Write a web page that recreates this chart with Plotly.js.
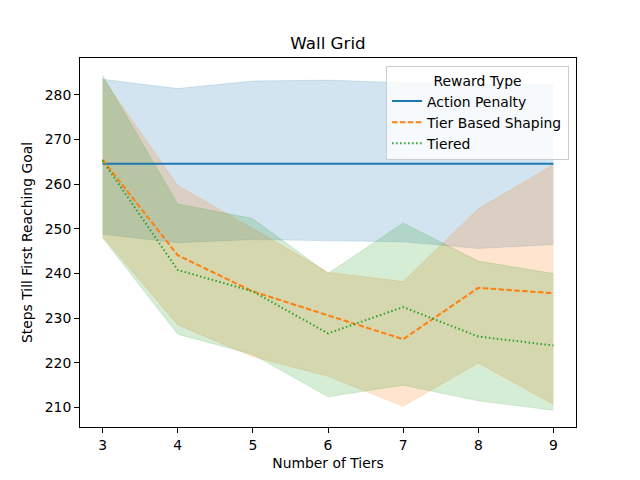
<!DOCTYPE html>
<html>
<head>
<meta charset="utf-8">
<script src="https://cdn.plot.ly/plotly-3.0.1.min.js"></script>
<style>html,body{margin:0;padding:0;background:#fff;}#chart{width:640px;height:480px;}</style>
</head>
<body>
<div id="chart"></div>
<script>
const tiers = [3, 4, 5, 6, 7, 8, 9];
const seriesNames = ["Action Penalty", "Tier Based Shaping", "Tiered"];

const actionPenaltyMean  = [264.6, 264.6, 264.6, 264.6, 264.6, 264.6, 264.6];
const actionPenaltyLower = [248.8, 246.9, 247.6, 247.3, 247.1, 245.6, 246.5];
const actionPenaltyUpper = [283.5, 281.4, 283.1, 283.3, 282.7, 282.5, 282.3];

const tierShapingMean  = [265.5, 244.1, 236.0, 230.6, 225.3, 236.8, 235.6];
const tierShapingLower = [248.3, 228.5, 221.4, 217.0, 210.3, 220.0, 210.7];
const tierShapingUpper = [283.8, 259.7, 250.1, 240.3, 238.2, 254.5, 264.4];

const tieredMean  = [265.3, 240.8, 236.0, 226.6, 232.5, 225.9, 223.9];
const tieredLower = [248.0, 226.4, 221.9, 212.4, 215.0, 211.5, 209.4];
const tieredUpper = [284.4, 255.6, 252.3, 240.0, 251.3, 242.8, 240.0];

const colors = ["#1f77b4", "#ff7f0e", "#2ca02c"];
const fills = ["rgba(31,119,180,0.2)", "rgba(255,127,14,0.2)", "rgba(44,160,44,0.2)"];
const dashes = ["solid", "5.5px,2.4px", "1.5px,2.5px"];

const means = [actionPenaltyMean, tierShapingMean, tieredMean];
const lowers = [actionPenaltyLower, tierShapingLower, tieredLower];
const uppers = [actionPenaltyUpper, tierShapingUpper, tieredUpper];

const traces = [];
for (let i = 0; i < 3; i++) {
  traces.push({
    x: tiers, y: lowers[i], mode: "lines", type: "scatter",
    line: {color: fills[i], width: 0.8}, showlegend: false, hoverinfo: "skip"
  });
  traces.push({
    x: tiers, y: uppers[i], mode: "lines", type: "scatter", fill: "tonexty",
    fillcolor: fills[i], line: {color: fills[i], width: 0.8}, showlegend: false, hoverinfo: "skip"
  });
}
for (let i = 0; i < 3; i++) {
  traces.push({
    x: tiers, y: means[i], mode: "lines", type: "scatter", name: seriesNames[i],
    line: {color: colors[i], width: 2, dash: dashes[i]}
  });
}

const font = {family: "DejaVu Sans, sans-serif", size: 13.9, color: "#000"};
const layout = {
  width: 640, height: 480,
  margin: {l: 80, r: 64, t: 57.6, b: 52.8, pad: 0},
  paper_bgcolor: "#fff", plot_bgcolor: "#fff",
  font: font,
  title: {text: "Wall Grid", x: 0.5125, xanchor: "center", y: 1 - 43/480, yanchor: "middle",
          font: {family: "DejaVu Sans, sans-serif", size: 16.7, color: "#000"}},
  xaxis: {
    range: [2.7, 9.3], tickvals: tiers, ticktext: tiers.map(String),
    showgrid: false, zeroline: false, showline: true, mirror: true, linecolor: "#000", linewidth: 1,
    ticks: "outside", ticklen: 5, tickwidth: 1, tickcolor: "#000",
    title: {text: "Number of Tiers", font: font, standoff: 6}
  },
  yaxis: {
    range: [205.65, 288.25], tickvals: [210, 220, 230, 240, 250, 260, 270, 280],
    showgrid: false, zeroline: false, showline: true, mirror: true, linecolor: "#000", linewidth: 1,
    ticks: "outside", ticklen: 5, tickwidth: 1, tickcolor: "#000",
    title: {text: "Steps Till First Reaching Goal", font: font, standoff: 8}
  },
  legend: {
    x: 0.986, xanchor: "right", y: 0.977, yanchor: "top",
    bgcolor: "rgba(255,255,255,0.8)", bordercolor: "#cccccc", borderwidth: 1,
    font: font, title: {text: "Reward Type", side: "top center", font: font},
    traceorder: "normal", tracegroupgap: 0, itemwidth: 30
  },
  showlegend: true
};

Plotly.newPlot("chart", traces, layout, {displayModeBar: false, staticPlot: true});
</script>
</body>
</html>
